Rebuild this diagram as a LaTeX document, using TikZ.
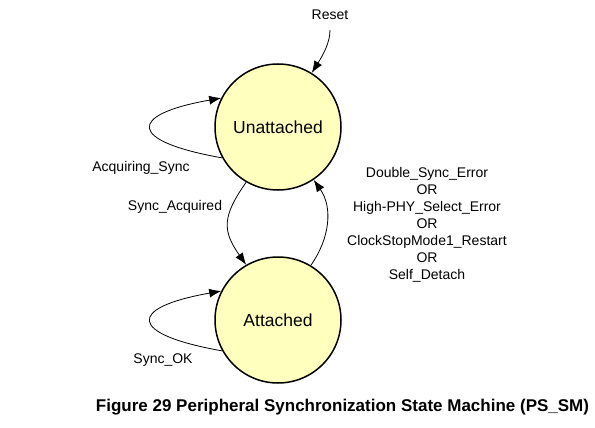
\documentclass[tikz,border=0pt]{standalone}
\usepackage{fontspec}
\setmainfont{Liberation Sans}
\usetikzlibrary{arrows.meta}
\definecolor{statefill}{RGB}{255,255,190}

\begin{document}
\begin{tikzpicture}[x=1pt,y=-1pt,
	state/.style={shape=circle,draw=black,line width=1.5pt,fill=statefill,minimum size=126pt,inner sep=0pt,font=\fontsize{17.5}{20}\selectfont},
	lbl/.style={inner sep=1pt,font=\fontsize{14}{17}\selectfont},
	trans/.style={-{Latex[length=12pt,width=9pt]},line width=0.8pt}]
	\useasboundingbox (0,0) rectangle (595,428);

	\node[state] (u) at (278, 127)     {Unattached};
	\node[state] (a) at (278, 320)     {Attached};

	\node[lbl] (reset) at (330, 15)     {Reset};
	\node[lbl] (acq) at (141, 168)     {Acquiring\_Sync};
	\node[lbl] (sacq) at (175, 207)     {Sync\_Acquired};
	\node[lbl] (sok) at (163, 360)     {Sync\_OK};
	\node[lbl,align=center] (err) at (427, 225)     {Double\_Sync\_Error\\OR\\High-PHY\_Select\_Error\\OR\\ClockStopMode1\_Restart\\OR\\Self\_Detach};

	\node[font=\bfseries\fontsize{17}{20}\selectfont] (cap) at (342.5, 407)     {Figure 29 Peripheral Synchronization State Machine (PS\_SM)};

	\path[trans] (reset) edge [out=-90,in=58,shorten <=9pt] (u.58);
	\path[trans] (u.209) edge [out=170,in=190,distance=96] (u.153);
	\path[trans] (u.240) edge [out=235,in=125,looseness=1.3] (a.120);
	\path[trans] (a.59) edge [out=55,in=-55] (u.-56);
	\path[trans] (a.209) edge [out=170,in=190,distance=96] (a.153);

\end{tikzpicture}
\end{document}
